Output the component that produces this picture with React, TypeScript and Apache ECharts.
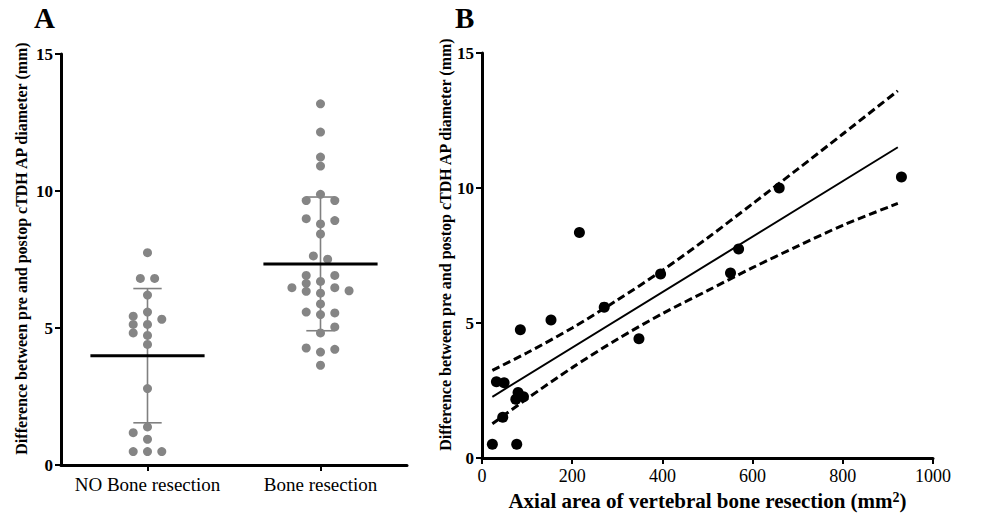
import React, { useEffect, useRef } from "react";
import * as echarts from "echarts";

// ---------- Panel A data ----------
const groups = ["NO Bone resection", "Bone resection"];
const noBoneValues = [7.75, 6.81, 6.81, 6.2, 5.58, 5.43, 5.32, 5.13, 5.13, 4.82, 4.73, 4.4, 2.79, 1.39, 1.18, 0.94, 0.49, 0.49, 0.49];
const noBoneCols = [0, -1, 1, 0, 0, -2, 2, -2, 0, -2, 0, 0, 0, 0, -2, 0, -2, 0, 2];
const boneValues = [13.18, 12.15, 11.24, 10.91, 9.88, 9.65, 9.65, 8.99, 8.92, 8.8, 8.43, 7.63, 7.51, 6.92, 6.92, 6.7, 6.63, 6.47, 6.47, 6.36, 6.34, 6.27, 5.88, 5.58, 5.55, 5.49, 5.04, 4.82, 4.27, 4.22, 4.12, 3.64];
const boneCols = [0, 0, 0, 0, 0, -2, 2, -2, 2, 0, 0, -1, 1, -2, 2, 0, -2, -4, 2, 4, -2, 0, 0, -2, 2, 0, 2, 0, -2, 2, 0, 0];
const groupMeans = [3.99, 7.34];
const groupSD = [2.45, 2.44];
const yTicks = [0, 5, 10, 15];

// ---------- Panel B data ----------
const areaX = [23, 77, 46, 32, 49, 80, 75, 92, 85, 153, 216, 271, 348, 396, 551, 569, 659, 930];
const diffY = [0.51, 0.51, 1.51, 2.83, 2.79, 2.43, 2.18, 2.27, 4.75, 5.11, 8.35, 5.59, 4.42, 6.82, 6.85, 7.74, 10.0, 10.41];
const fitX = [23, 922];
const fitY = [2.27, 11.51];
const ciX = [23, 100, 200, 300, 400, 500, 600, 700, 800, 922];
const ciUpper = [3.25, 3.9, 4.82, 5.85, 6.95, 8.15, 9.42, 10.7, 12.0, 13.6];
const ciLower = [1.27, 2.2, 3.35, 4.4, 5.35, 6.2, 7.05, 7.85, 8.62, 9.43];

const FONT = "'Liberation Serif', 'DejaVu Serif', serif";
const COL_STEP = 0.0413;

const axisLineStyle = { show: true, onZero: false, lineStyle: { color: "#000", width: 3 } };
const axisTickStyle = { show: true, length: 6, lineStyle: { color: "#000", width: 2 } };

export default function App() {
  const ref = useRef<HTMLDivElement>(null);
  useEffect(() => {
    if (!ref.current) return;
    const chart = echarts.init(ref.current, undefined, { renderer: "svg" });

    const scatterA: number[][] = [];
    noBoneValues.forEach((v, i) => scatterA.push([0 + noBoneCols[i] * COL_STEP, v]));
    boneValues.forEach((v, i) => scatterA.push([1 + boneCols[i] * COL_STEP, v]));
    const statsData = groupMeans.map((m, i) => [i, m, groupSD[i]]);

    const option: any = {
      animation: false,
      backgroundColor: "#fff",
      graphic: [
        { type: "text", left: 34, top: 3, style: { text: "A", font: `bold 29px ${FONT}`, fill: "#000" } },
        { type: "text", left: 455, top: 3, style: { text: "B", font: `bold 29px ${FONT}`, fill: "#000" } },
      ],
      grid: [
        { left: 61, top: 54, width: 346, height: 411 },
        { left: 482, top: 53, width: 451, height: 413 },
      ],
      xAxis: [
        {
          gridIndex: 0,
          type: "category",
          data: groups,
          boundaryGap: true,
          axisLine: axisLineStyle,
          axisTick: { ...axisTickStyle, alignWithLabel: true },
          axisLabel: { fontFamily: FONT, fontSize: 19, color: "#000", margin: 10, interval: 0 },
          splitLine: { show: false },
        },
        { gridIndex: 0, type: "value", min: -0.5, max: 1.5, show: false },
        {
          gridIndex: 1,
          type: "value",
          min: 0,
          max: 1000,
          interval: 200,
          axisLine: axisLineStyle,
          axisTick: axisTickStyle,
          axisLabel: { fontFamily: FONT, fontSize: 18, color: "#000", margin: 9, formatter: (v: number) => String(v) },
          splitLine: { show: false },
          name: "{a|Axial area of vertebral bone resection (mm}{s|2}{a|)}",
          nameLocation: "middle",
          nameGap: 27,
          nameTextStyle: {
            rich: {
              a: { fontFamily: FONT, fontSize: 21, fontWeight: "bold", color: "#000" },
              s: { fontFamily: FONT, fontSize: 14, fontWeight: "bold", color: "#000", verticalAlign: "top" },
            },
          },
        },
      ],
      yAxis: [0, 1].map((gi) => ({
        gridIndex: gi,
        type: "value",
        min: yTicks[0],
        max: yTicks[yTicks.length - 1],
        interval: 5,
        axisLine: axisLineStyle,
        axisTick: axisTickStyle,
        axisLabel: { fontFamily: FONT, fontSize: 17, fontWeight: "bold", color: "#000", margin: 8 },
        splitLine: { show: false },
        name: "Difference between pre and postop cTDH AP diameter (mm)",
        nameLocation: "middle",
        nameRotate: 90,
        nameGap: gi === 0 ? 32 : 25,
        nameTextStyle: { fontFamily: FONT, fontSize: 16, fontWeight: "bold", color: "#000", padding: [0, 0, 0, 22] },
      })),
      series: [
        {
          type: "custom",
          xAxisIndex: 1,
          yAxisIndex: 0,
          z: 1,
          data: statsData,
          renderItem: (params: any, api: any) => {
            const g = api.value(0), m = api.value(1), s = api.value(2);
            const t = api.coord([g, m + s]);
            const b = api.coord([g, m - s]);
            const tl = api.coord([g - 0.082, m + s]);
            const tr = api.coord([g + 0.082, m + s]);
            const bl = api.coord([g - 0.082, m - s]);
            const br = api.coord([g + 0.082, m - s]);
            const st = { stroke: "#808080", lineWidth: 1.6 };
            return {
              type: "group",
              children: [
                { type: "line", shape: { x1: t[0], y1: t[1], x2: b[0], y2: b[1] }, style: st },
                { type: "line", shape: { x1: tl[0], y1: tl[1], x2: tr[0], y2: tr[1] }, style: st },
                { type: "line", shape: { x1: bl[0], y1: bl[1], x2: br[0], y2: br[1] }, style: st },
              ],
            };
          },
        },
        {
          type: "scatter",
          xAxisIndex: 1,
          yAxisIndex: 0,
          z: 2,
          symbolSize: 9,
          itemStyle: { color: "#858585", opacity: 1 },
          data: scatterA,
        },
        {
          type: "custom",
          xAxisIndex: 1,
          yAxisIndex: 0,
          z: 3,
          data: statsData,
          renderItem: (params: any, api: any) => {
            const g = api.value(0), m = api.value(1);
            const l = api.coord([g - 0.33, m]);
            const r = api.coord([g + 0.33, m]);
            return { type: "line", shape: { x1: l[0], y1: l[1], x2: r[0], y2: r[1] }, style: { stroke: "#000", lineWidth: 3 } };
          },
        },
        {
          type: "line",
          xAxisIndex: 2,
          yAxisIndex: 1,
          data: fitX.map((x, i) => [x, fitY[i]]),
          showSymbol: false,
          lineStyle: { color: "#000", width: 2 },
        },
        {
          type: "line",
          xAxisIndex: 2,
          yAxisIndex: 1,
          data: ciX.map((x, i) => [x, ciUpper[i]]),
          showSymbol: false,
          smooth: 0.3,
          lineStyle: { color: "#000", width: 3, type: [8, 4] },
        },
        {
          type: "line",
          xAxisIndex: 2,
          yAxisIndex: 1,
          data: ciX.map((x, i) => [x, ciLower[i]]),
          showSymbol: false,
          smooth: 0.3,
          lineStyle: { color: "#000", width: 3, type: [8, 4] },
        },
        {
          type: "scatter",
          xAxisIndex: 2,
          yAxisIndex: 1,
          symbolSize: 11,
          z: 5,
          itemStyle: { color: "#000", opacity: 1 },
          data: areaX.map((x, i) => [x, diffY[i]]),
        },
      ],
    };
    chart.setOption(option);
    return () => chart.dispose();
  }, []);
  return <div ref={ref} style={{ position: "fixed", left: 0, top: 0, width: 986, height: 516, background: "#fff" }} />;
}
